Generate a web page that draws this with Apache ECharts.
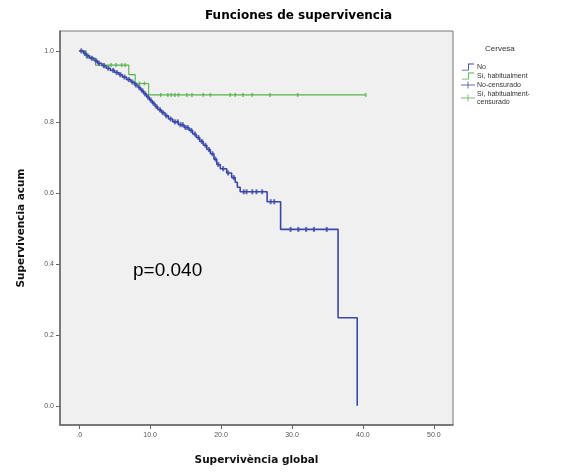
<!DOCTYPE html>
<html>
<head>
<meta charset="utf-8">
<script src="https://cdn.jsdelivr.net/npm/echarts@6/dist/echarts.min.js"></script>
<style>html,body{margin:0;padding:0;background:#fff}#c{width:562px;height:473px}</style>
</head>
<body>
<div id="c"></div>
<script>
// Kaplan-Meier step data: [time, survival after event]
var noSteps = [
  [0,1.000],[0.6,0.993],[1.0,0.986],[1.5,0.979],[2.1,0.972],[2.6,0.965],[3.2,0.958],[3.8,0.951],
  [4.4,0.945],[5.0,0.939],[5.6,0.933],[6.1,0.926],[6.7,0.919],[7.3,0.912],[7.8,0.904],[8.3,0.896],
  [8.7,0.888],[9.1,0.879],[9.5,0.870],[9.9,0.861],[10.3,0.852],[10.7,0.843],[11.1,0.834],[11.6,0.826],
  [12.1,0.817],[12.6,0.808],[13.2,0.800],[14.0,0.792],[14.8,0.784],[15.5,0.776],[16.0,0.766],[16.5,0.756],
  [17.0,0.745],[17.5,0.734],[18.0,0.722],[18.5,0.710],[19.0,0.695],[19.4,0.680],[19.9,0.668],[20.8,0.656],
  [21.5,0.643],[22.0,0.630],[22.3,0.616],[22.7,0.603],[26.5,0.575],[28.4,0.497],[36.5,0.248],[39.2,0.000]
];
var siSteps = [
  [0,1.000],[1.0,0.980],[2.3,0.960],[7.0,0.933],[7.9,0.908],[9.8,0.876],[40.4,0.876]
];
// censored observation times
var noCensored = [0.3,0.8,1.2,1.8,2.4,2.8,3.5,4.1,4.8,5.3,5.8,6.4,7.0,7.5,8.0,8.5,8.9,9.3,9.7,10.1,10.5,10.9,
  11.4,11.8,12.3,12.9,13.5,13.9,14.3,14.6,15.0,15.3,15.8,16.3,16.8,17.3,17.8,18.3,18.8,19.2,19.6,20.3,
  21.0,21.8,23.2,23.6,24.4,25.0,25.8,27.0,27.5,29.8,30.9,32.0,33.1,34.9];
var siCensored = [3.5,4.5,5.2,6.0,6.5,8.5,9.2,11.5,12.5,13.0,13.5,14.0,15.2,15.9,17.5,18.5,21.3,22.0,
  23.1,24.4,26.9,30.8,40.4];
var xTicks = [0,10,20,30,40,50];
var xTickLabels = ['.0','10.0','20.0','30.0','40.0','50.0'];
var yTicks = [0,0.2,0.4,0.6,0.8,1.0];
var yTickLabels = ['0.0','0.2','0.4','0.6','0.8','1.0'];
var seriesNames = ['No','Sí, habitualment','No-censurado','Sí, habitualment-censurado'];

function survAt(steps, t){
  var v = steps[0][1];
  for (var i=0;i<steps.length;i++){ if (steps[i][0] <= t) v = steps[i][1]; }
  return v;
}
function censorPoints(steps, times){ return times.map(function(t){ return [t, survAt(steps,t)]; }); }

var blue = '#3a47a8', green = '#52b44a';
var stepIcon = 'path://M0,8 L7,8 L7,1 L14,1 L14,2 L8,2 L8,9 L0,9 Z';
var censIcon = 'path://M0,4 L14,4 L14,5 L0,5 Z M6.5,1 L7.5,1 L7.5,8 L6.5,8 Z';
var bold = 'DejaVu Sans, Verdana, sans-serif';

var chart = echarts.init(document.getElementById('c'), null, {renderer:'canvas'});
chart.setOption({
  animation:false,
  backgroundColor:'#ffffff',
  title:[
    {text:'Funciones de supervivencia', left:200, top:5,
     textStyle:{fontFamily:bold, fontSize:12, fontWeight:'bold', color:'#000'}},
    {text:'Cervesa', left:480, top:40,
     textStyle:{fontFamily:'Liberation Sans, Arial', fontSize:8, fontWeight:'normal', color:'#333'}}
  ],
  legend:{
    orient:'vertical', left:456, top:58, itemWidth:14, itemHeight:7, itemGap:1,
    data:[
      {name:seriesNames[0], icon:stepIcon},
      {name:seriesNames[1], icon:stepIcon},
      {name:seriesNames[2], icon:censIcon},
      {name:seriesNames[3], icon:censIcon}
    ],
    formatter:function(n){ return n === seriesNames[3] ? 'Sí, habitualment-\ncensurado' : n; },
    textStyle:{fontFamily:'Liberation Sans, Arial', fontSize:7, color:'#333', lineHeight:8, padding:[0,0,0,-3]}
  },
  grid:{left:60, right:109, top:31, bottom:48, show:true, backgroundColor:'#f0f0f0', borderColor:'#777', borderWidth:1},
  xAxis:{
    type:'value', min:-2.7, max:52.7,
    name:'Supervivència global', nameLocation:'middle', nameGap:30,
    nameTextStyle:{fontFamily:bold, fontSize:10.5, fontWeight:'bold', color:'#111'},
    axisLine:{show:true, onZero:false, lineStyle:{color:'#666', width:1.5}},
    axisTick:{show:true, length:4, customValues:xTicks, lineStyle:{color:'#666'}},
    axisLabel:{customValues:xTicks, fontSize:7, color:'#555', margin:7, fontFamily:'Liberation Sans, Arial',
      formatter:function(v){ return xTickLabels[xTicks.indexOf(v)]; }},
    splitLine:{show:false}
  },
  yAxis:{
    type:'value', min:-0.054, max:1.056,
    name:'Supervivencia acum', nameLocation:'middle', nameGap:33, nameRotate:90,
    nameTextStyle:{fontFamily:bold, fontSize:10.5, fontWeight:'bold', color:'#111'},
    axisLine:{show:true, onZero:false, lineStyle:{color:'#666', width:1.5}},
    axisTick:{show:true, length:4, customValues:yTicks, lineStyle:{color:'#666'}},
    axisLabel:{customValues:yTicks, fontSize:7, color:'#555', margin:6, fontFamily:'Liberation Sans, Arial',
      formatter:function(v){ var i=-1; yTicks.forEach(function(t,k){ if (Math.abs(t-v)<1e-6) i=k; }); return yTickLabels[i]; }},
    splitLine:{show:false}
  },
  graphic:[
    {type:'text', left:133, top:261, style:{text:'p=0.040', font:'19px "Liberation Sans", Arial', fill:'#000'}}
  ],
  series:[
    {name:seriesNames[0], type:'line', step:'end', data:noSteps, showSymbol:false, symbol:'none',
     lineStyle:{color:blue, width:1.6}, itemStyle:{color:blue}, z:3},
    {name:seriesNames[1], type:'line', step:'end', data:siSteps, showSymbol:false, symbol:'none',
     lineStyle:{color:green, width:1.1}, itemStyle:{color:green}, z:2},
    {name:seriesNames[2], type:'scatter', data:censorPoints(noSteps, noCensored), symbol:'rect', symbolSize:[2,5],
     itemStyle:{color:blue}, z:4},
    {name:seriesNames[3], type:'scatter', data:censorPoints(siSteps, siCensored), symbol:'rect', symbolSize:[1.6,4],
     itemStyle:{color:green}, z:3}
  ]
});
</script>
</body>
</html>
